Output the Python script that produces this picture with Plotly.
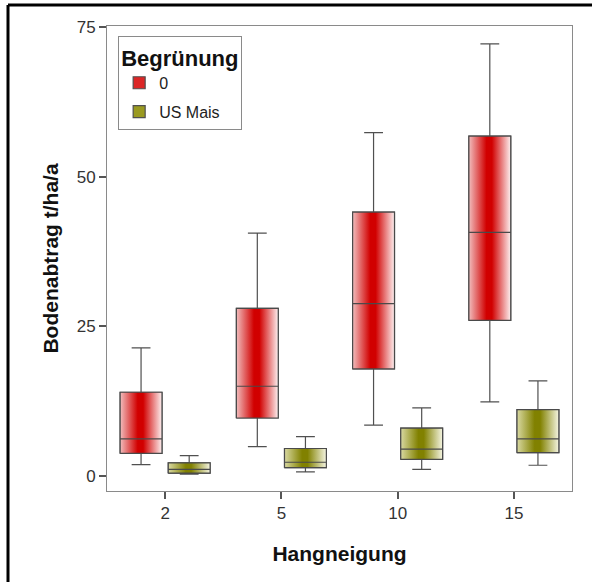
import plotly.graph_objects as go

# ---- data ----
categories = ["2", "5", "10", "15"]          # Hangneigung
group_names = ["0", "US Mais"]               # Begrünung

red_low = [1.9, 4.9, 8.5, 12.4]
red_q1 = [3.8, 9.7, 17.9, 26.0]
red_med = [6.2, 15.0, 28.8, 40.7]
red_q3 = [14.0, 28.0, 44.1, 56.8]
red_high = [21.4, 40.6, 57.4, 72.2]

olive_low = [0.3, 0.7, 1.1, 1.8]
olive_q1 = [0.5, 1.4, 2.8, 3.9]
olive_med = [1.1, 2.3, 4.5, 6.2]
olive_q3 = [2.2, 4.6, 8.0, 11.1]
olive_high = [3.4, 6.6, 11.4, 15.9]

yticks = [0, 25, 50, 75]

# ---- styling ----
positions = list(range(len(categories)))
offset = 0.207
half_w = 0.18
FONT = "Liberation Sans, Arial, sans-serif"
styles = {
    "0": dict(
        off=-offset,
        scale=[[0, "#f1bdbd"], [0.42, "#d10000"], [0.55, "#d10000"], [1, "#fdf0f0"]],
        swatch="#dc2626",
        stats=(red_low, red_q1, red_med, red_q3, red_high),
    ),
    "US Mais": dict(
        off=offset,
        scale=[[0, "#d9d9a2"], [0.42, "#818100"], [0.55, "#818100"], [1, "#f5f5e2"]],
        swatch="#9a9a20",
        stats=(olive_low, olive_q1, olive_med, olive_q3, olive_high),
    ),
}

fig = go.Figure()

# whiskers + solid body (bottom layer, also provides the legend swatch)
for g in group_names:
    st = styles[g]
    low, q1, med, q3, high = st["stats"]
    fig.add_trace(go.Box(
        x=[p + st["off"] for p in positions],
        lowerfence=low, q1=q1, median=med, q3=q3, upperfence=high,
        width=2 * half_w, whiskerwidth=0.45,
        fillcolor=st["swatch"], line=dict(color="#505050", width=1.2),
        boxpoints=False, showlegend=True, name=g, legendgroup=g,
    ))

# gradient-filled box bodies with outline and median line (top layer)
for g in group_names:
    st = styles[g]
    low, q1, med, q3, high = st["stats"]
    for i, p in enumerate(positions):
        cx = p + st["off"]
        l, r = cx - half_w, cx + half_w
        xs = [l, r, r, l, l, r, l, l]
        ys = [q1[i], q1[i], q3[i], q3[i], med[i], med[i], med[i], q1[i]]
        fig.add_trace(go.Scatter(
            x=xs, y=ys, mode="lines", fill="toself",
            fillgradient=dict(type="horizontal", colorscale=st["scale"]),
            line=dict(color="#4a4a4a", width=1.2),
            name=g, legendgroup=g, showlegend=False,
            hoverinfo="skip",
        ))

xr = [-0.5, len(categories) - 0.5]
yr = [-2.5, 75.2]
axis_font = dict(family=FONT, size=17, color="#333333")
title_font = dict(family=FONT, size=21, color="#111111", weight="bold")

fig.update_layout(
    width=592, height=582,
    margin=dict(l=107, r=20, t=26, b=91),
    paper_bgcolor="white", plot_bgcolor="white",
    font=axis_font,
    xaxis=dict(
        range=xr, tickvals=positions, ticktext=categories,
        showline=True, linecolor="#8a8a8a", linewidth=1, mirror=True,
        ticks="outside", ticklen=7, tickcolor="#555555", tickwidth=1.5,
        showgrid=False, zeroline=False, tickfont=axis_font,
        title=dict(text="Hangneigung", font=title_font, standoff=23),
    ),
    yaxis=dict(
        range=yr, tickvals=yticks,
        showline=True, linecolor="#8a8a8a", linewidth=1, mirror=True,
        ticks="outside", ticklen=7, tickcolor="#555555", tickwidth=1.5,
        showgrid=False, zeroline=False, tickfont=axis_font,
        title=dict(text="Bodenabtrag t/ha/a", font=title_font, standoff=12),
    ),
    legend=dict(
        x=0.024, y=0.978, xanchor="left", yanchor="top",
        bgcolor="white", bordercolor="#8a8a8a", borderwidth=1,
        title=dict(text="Begrünung", font=dict(family=FONT, size=22, color="#111111", weight="bold"),
                   side="top"),
        font=dict(family=FONT, size=16, color="#222222"),
        tracegroupgap=5, traceorder="grouped",
    ),
    showlegend=True,
)

# outer black frame (top and left edges visible in the reference)
fx = (8 - 107) / 465
fy = (491 - 5) / 465
fig.add_shape(type="line", xref="paper", yref="paper", x0=fx, x1=fx, y0=-0.25, y1=fy,
              line=dict(color="black", width=3))
fig.add_shape(type="line", xref="paper", yref="paper", x0=fx, x1=1.05, y0=fy, y1=fy,
              line=dict(color="black", width=3))

fig.write_html("out.html")
